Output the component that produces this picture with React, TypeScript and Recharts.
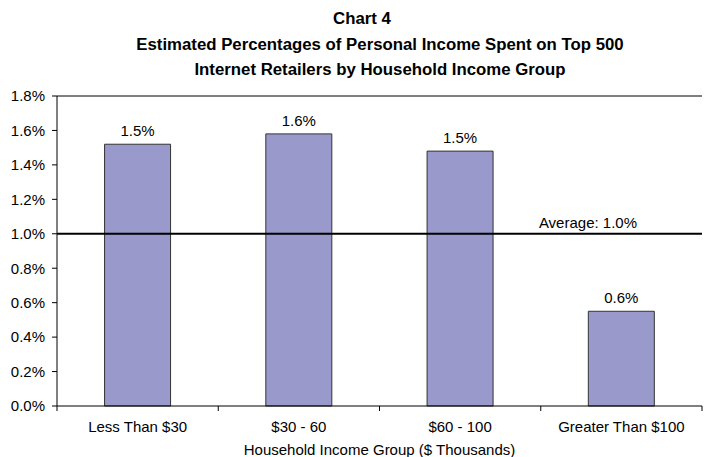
import { BarChart, Bar, XAxis, YAxis, ReferenceLine, LabelList } from 'recharts'

const categories = ['Less Than $30', '$30 - 60', '$60 - 100', 'Greater Than $100']
const shares = [1.52, 1.58, 1.48, 0.55]
const yTicks = [0, 0.2, 0.4, 0.6, 0.8, 1.0, 1.2, 1.4, 1.6, 1.8]
const average = 1.0
const titleLines = [
  'Chart 4',
  'Estimated Percentages of Personal Income Spent on Top 500',
  'Internet Retailers by Household Income Group',
]

const data = categories.map((name, i) => ({ name, value: shares[i] }))
const pct = (v: number) => `${v.toFixed(1)}%`
const FONT = '"Liberation Sans", Arial, sans-serif'

function CategoryTick(props: any) {
  const { x, y, payload, index, visibleTicksCount } = props
  const half = payload?.offset ?? 0
  const top = y - 6
  return (
    <g>
      <line x1={x - half} x2={x - half} y1={top} y2={top + 5} stroke="#000" />
      {index === visibleTicksCount - 1 && (
        <line x1={x + half} x2={x + half} y1={top} y2={top + 5} stroke="#000" />
      )}
      <text x={x} y={y} dy={20} textAnchor="middle" fontSize={15} fontFamily={FONT} fill="#000">
        {payload.value}
      </text>
    </g>
  )
}

function AverageLabel({ viewBox }: any) {
  const { x, y, width } = viewBox
  return (
    <text x={x + width - 65} y={y - 6} textAnchor="end" fontSize={15} fontFamily={FONT} fill="#000">
      {`Average: ${pct(average)}`}
    </text>
  )
}

export default function App() {
  return (
    <div style={{ position: 'absolute', left: 0, top: 0, width: 706, height: 457, background: '#fff' }}>
      <div
        style={{
          position: 'absolute',
          left: 0,
          top: 6,
          width: 760,
          textAlign: 'center',
          fontFamily: FONT,
          fontWeight: 'bold',
          fontSize: 16.8,
          lineHeight: '25.5px',
          color: '#000',
        }}
      >
        {titleLines.map((t, i) => (
          <div key={t} style={i === 0 ? { paddingRight: 36 } : undefined}>
            {t}
          </div>
        ))}
      </div>
      <BarChart
        width={706}
        height={457}
        data={data}
        margin={{ top: 96, right: 4, left: 0, bottom: 0 }}
        barCategoryGap="29.5%"
        style={{ position: 'absolute', left: 0, top: 0 }}
      >
        <XAxis
          dataKey="name"
          height={51}
          axisLine={{ stroke: '#000' }}
          tickLine={false}
          tickSize={0}
          tickMargin={6}
          tick={<CategoryTick />}
          interval={0}
          label={{
            value: 'Household Income Group ($ Thousands)',
            position: 'insideBottom',
            offset: 2,
            fontSize: 15,
            fontFamily: FONT,
            fill: '#000',
          }}
        />
        <YAxis
          width={57}
          domain={[0, 1.8]}
          ticks={yTicks}
          tickFormatter={pct}
          axisLine={{ stroke: '#000' }}
          tickLine={{ stroke: '#000' }}
          tickSize={5}
          tickMargin={7}
          tick={{ fontSize: 15, fontFamily: FONT, fill: '#000' }}
          interval={0}
        />
        <ReferenceLine y={1.8} stroke="#000" />
        <ReferenceLine y={average} stroke="#000" strokeWidth={2} label={<AverageLabel />} />
        <Bar dataKey="value" fill="#9999CC" stroke="#333" strokeWidth={1} isAnimationActive={false}>
          <LabelList
            dataKey="value"
            position="top"
            offset={8}
            formatter={(v: any) => pct(Number(v))}
            style={{ fontSize: 15, fontFamily: FONT, fill: '#000' }}
          />
        </Bar>
      </BarChart>
    </div>
  )
}
